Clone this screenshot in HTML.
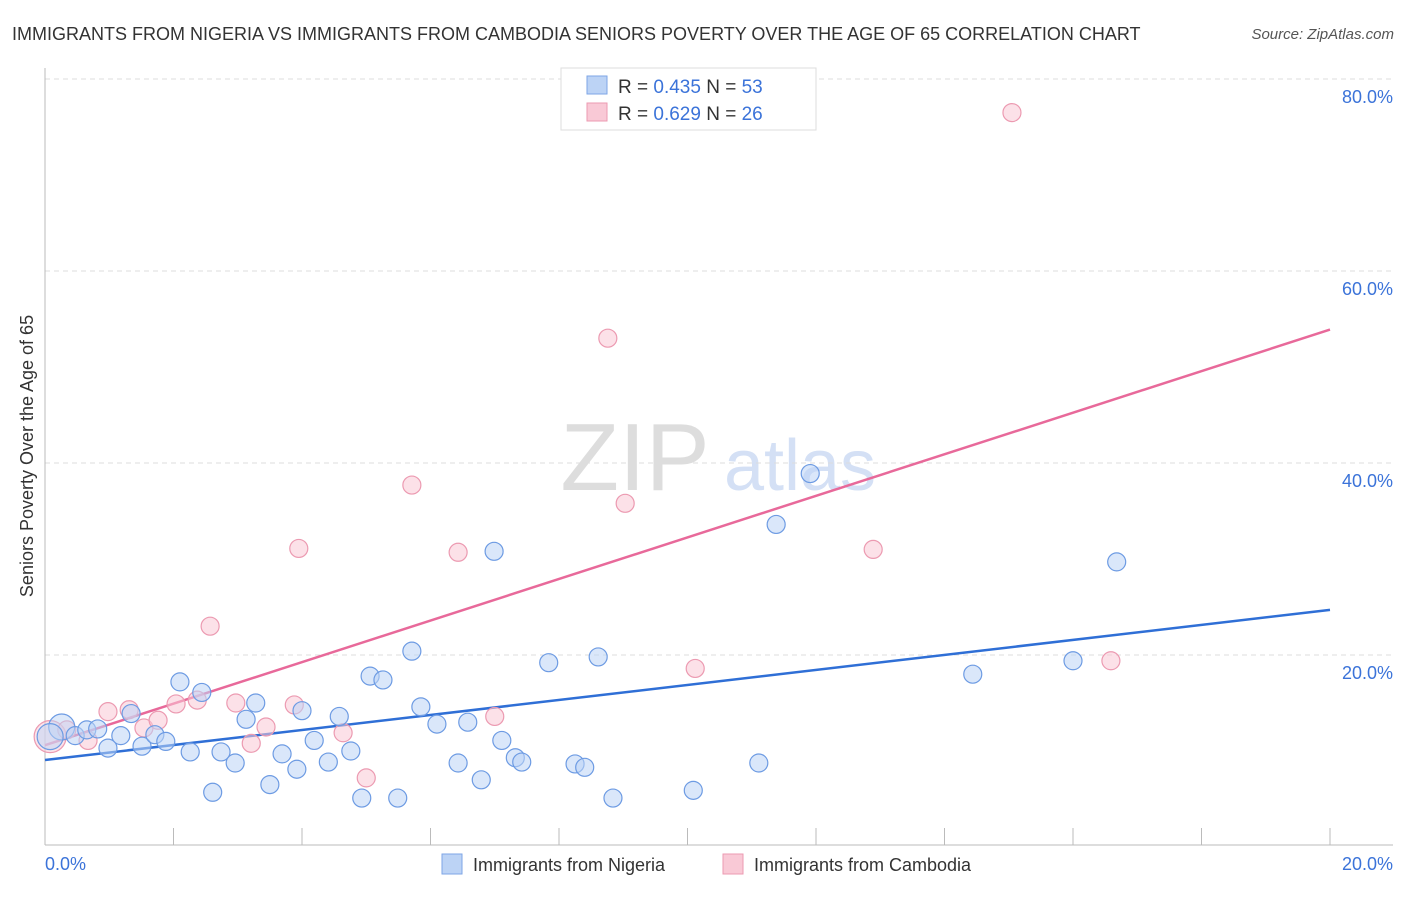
<!DOCTYPE html>
<html><head><meta charset="utf-8"><style>
body{margin:0;background:#fff;font-family:"Liberation Sans",sans-serif;}
svg text{font-family:"Liberation Sans",sans-serif;}
</style></head><body>
<svg id="chart" width="1406" height="892" xmlns="http://www.w3.org/2000/svg">
<text x="12" y="40" font-size="18" fill="#333">IMMIGRANTS FROM NIGERIA VS IMMIGRANTS FROM CAMBODIA SENIORS POVERTY OVER THE AGE OF 65 CORRELATION CHART</text>
<text x="1394" y="39" font-size="15" fill="#555" font-style="italic" text-anchor="end">Source: ZipAtlas.com</text>
<text transform="translate(33,456) rotate(-90)" font-size="18" fill="#333" text-anchor="middle">Seniors Poverty Over the Age of 65</text>
<g><text x="635" y="490" font-size="96" fill="#ddd" font-family="Liberation Serif,serif" text-anchor="middle">ZIP</text><text x="800" y="490" font-size="72" fill="#d4e0f5" text-anchor="middle">atlas</text></g>
<g id="grid"></g><g id="axes"></g><g id="lines"></g><g id="pts"></g>
<g>
<rect x="561" y="68" width="255" height="62" fill="#fff" stroke="#ddd"/>
<rect x="587" y="76" width="20" height="18" fill="#bcd3f5" stroke="#7ea6e6"/>
<rect x="587" y="103" width="20" height="18" fill="#f9c9d6" stroke="#ec9ab1"/>
<text x="618" y="93" font-size="19" fill="#333">R = <tspan fill="#3b73d9">0.435</tspan>   N = <tspan fill="#3b73d9">53</tspan></text>
<text x="618" y="120" font-size="19" fill="#333">R = <tspan fill="#3b73d9">0.629</tspan>   N = <tspan fill="#3b73d9">26</tspan></text>
</g>
<g>
<rect x="442" y="854" width="20" height="20" fill="#bcd3f5" stroke="#7ea6e6"/>
<text x="473" y="871" font-size="18" fill="#333">Immigrants from Nigeria</text>
<rect x="723" y="854" width="20" height="20" fill="#f9c9d6" stroke="#ec9ab1"/>
<text x="754" y="871" font-size="18" fill="#333">Immigrants from Cambodia</text>
</g>
</svg>
<script>
const blueX=[0.26,0.47,0.65,0.82,0.98,1.18,1.34,1.51,1.71,1.88,2.10,2.26,2.44,2.61,2.74,2.96,3.13,3.28,3.50,3.69,3.92,4.00,4.19,4.41,4.58,4.76,4.93,5.06,5.26,5.49,5.71,5.85,6.10,6.43,6.58,6.79,6.99,7.11,7.32,7.42,7.84,8.25,8.40,8.61,8.84,10.09,11.11,11.38,11.91,14.44,16.00,16.68,0.08];
const blueY=[12.5,11.6,12.2,12.3,10.3,11.6,13.9,10.5,11.7,11.0,17.2,9.9,16.1,5.7,9.9,8.75,13.3,15.0,6.5,9.7,8.1,14.2,11.1,8.85,13.6,10.0,5.1,17.8,17.4,5.1,20.4,14.6,12.8,8.75,13.0,7.0,30.8,11.1,9.3,8.85,19.2,8.65,8.3,19.8,5.1,5.9,8.75,33.6,38.9,18.0,19.4,29.7,11.5];
const pinkX=[0.08,0.34,0.67,0.98,1.31,1.54,1.76,2.04,2.37,2.57,2.97,3.21,3.44,3.88,3.95,4.64,5.00,5.71,6.43,7.00,8.76,9.03,10.12,12.89,15.05,16.59];
const pinkY=[11.5,12.2,11.1,14.1,14.3,12.4,13.2,14.9,15.3,23.0,15.0,10.8,12.5,14.8,31.1,11.9,7.2,37.7,30.7,13.6,53.0,35.8,18.6,31.0,76.5,19.4];
const blueTrend=[9.06,24.7];
const pinkTrend=[10.6,53.9];
const yTicks=[20,40,60,80];
const yTickLabels=["20.0%","40.0%","60.0%","80.0%"];
const xTickLabels=["0.0%","20.0%"];
const NS="http://www.w3.org/2000/svg";
const sx=v=>45+v/20*1285, sy=v=>847-v/20*192;
function mk(p,t,a){const e=document.createElementNS(NS,t);for(const k in a)e.setAttribute(k,a[k]);document.getElementById(p).appendChild(e);return e;}
yTicks.forEach((t,i)=>{const g=mk('grid','line',{x1:45,x2:1393,y1:sy(t),y2:sy(t),stroke:'#ddd','stroke-dasharray':'5,4'});


const l=mk('grid','text',{x:1393,y:sy(t)+24,'font-size':18,fill:'#3b73d9','text-anchor':'end'});l.textContent=yTickLabels[i];

});
mk('axes','line',{x1:45,x2:45,y1:68,y2:845,stroke:'#bbb'});
mk('axes','line',{x1:45,x2:1393,y1:845,y2:845,stroke:'#bbb'});
for(let i=1;i<=10;i++){const t=mk('axes','line',{x1:sx(i*2),x2:sx(i*2),y1:828,y2:845,stroke:'#bbb'});

}
[[0,'start',45],[1,'end',1393]].forEach(([i,an,x])=>{const l=mk('axes','text',{x:x,y:870,'font-size':18,fill:'#3b73d9','text-anchor':an});l.textContent=xTickLabels[i];

});
function pts(X,Y,fill,stroke,name){X.forEach((x,i)=>{const big=(i==0&&name=='nigeria-point')||(x<0.1);const c=mk('pts','circle',{cx:sx(x),cy:sy(Y[i]),r:big?(name=='nigeria-point'?13:16):9,fill:fill,'fill-opacity':big?0.5:0.55,stroke:stroke,'stroke-width':1.2});

});}
pts(pinkX,pinkY,'#f9c9d6','#ec9ab1','cambodia-point');
pts(blueX,blueY,'#bcd3f5','#6d9be3','nigeria-point');
const bl=mk('lines','line',{x1:sx(0),y1:sy(blueTrend[0]),x2:sx(20),y2:sy(blueTrend[1]),stroke:'#2f6fd6','stroke-width':2.5});


const pl=mk('lines','line',{x1:sx(0),y1:sy(pinkTrend[0]),x2:sx(20),y2:sy(pinkTrend[1]),stroke:'#e8699a','stroke-width':2.5});


</script>
</body></html>
